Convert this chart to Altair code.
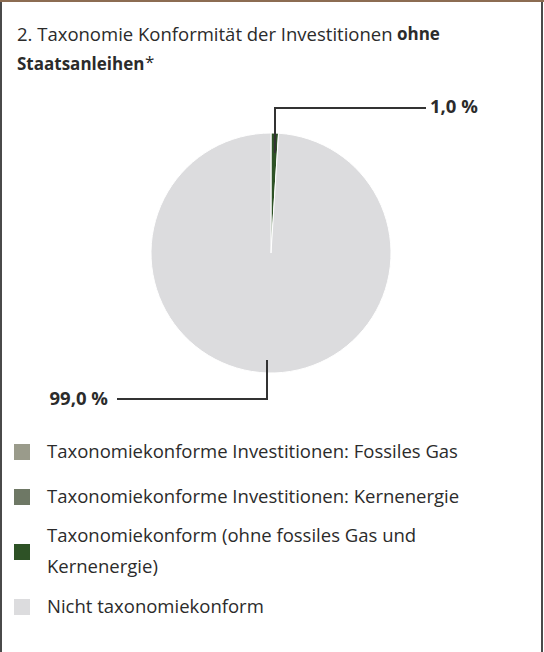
import altair as alt
import pandas as pd

# ---- data ----
categories = [
    "Taxonomiekonforme Investitionen: Fossiles Gas",
    "Taxonomiekonforme Investitionen: Kernenergie",
    "Taxonomiekonform (ohne fossiles Gas und Kernenergie)",
    "Nicht taxonomiekonform",
]
legend_labels = [
    "Taxonomiekonforme Investitionen: Fossiles Gas",
    "Taxonomiekonforme Investitionen: Kernenergie",
    "Taxonomiekonform (ohne fossiles Gas und\nKernenergie)",
    "Nicht taxonomiekonform",
]
values = [0.0, 0.0, 1.0, 99.0]
colors = ["#9a9b8b", "#6e7865", "#2e5226", "#dcdcde"]
value_labels = ["1,0 %", "99,0 %"]
title_parts = [
    ("2. Taxonomie Konformität der Investitionen", "normal"),
    ("ohne", "bold"),
    ("Staatsanleihen", "bold"),
    ("*", "normal"),
]

df = pd.DataFrame({"cat": categories, "value": values, "order": range(len(categories))})

FONT = "Open Sans"
W, H = 544, 652
CX, CY, R = 271, 253, 120
TXT = "#2b2b2b"
LINE = "#333333"
FS = 18.5

one = pd.DataFrame({"a": [0]})

# frame
frame_left = alt.Chart(one).mark_rule(color="#4a4a4a", strokeWidth=2).encode(
    x=alt.value(1), y=alt.value(2), y2=alt.value(H)
)
frame_right = alt.Chart(one).mark_rule(color="#4a4a4a", strokeWidth=2).encode(
    x=alt.value(542), y=alt.value(2), y2=alt.value(H)
)
frame_top = alt.Chart(one).mark_rule(color="#8c6c52", strokeWidth=2).encode(
    x=alt.value(0), x2=alt.value(W), y=alt.value(1)
)

# pie
pie = alt.Chart(df).mark_arc(outerRadius=R, stroke="white", strokeWidth=1).encode(
    theta=alt.Theta("value:Q", stack=True),
    order=alt.Order("order:Q"),
    color=alt.Color("cat:N", scale=alt.Scale(domain=categories, range=colors), legend=None),
    x=alt.value(CX),
    y=alt.value(CY),
)

# title
def txt(s, x, y, weight="normal", size=FS, align="left"):
    return alt.Chart(one).mark_text(align=align, baseline="middle", font=FONT, fontSize=size,
                                    fontWeight=weight, color=TXT).encode(
        x=alt.value(x), y=alt.value(y), text=alt.value(s)
    )

t1 = txt(title_parts[0][0], 17, 35)
t2 = txt(title_parts[1][0], 397, 35, "bold", 17)
t3 = txt(title_parts[2][0], 17, 65, "bold", 17)
t4 = txt(title_parts[3][0], 145, 63, "normal", 17)

# leader lines
lw = 2
l1a = alt.Chart(one).mark_rule(color=LINE, strokeWidth=lw).encode(x=alt.value(275), y=alt.value(153), y2=alt.value(107))
l1b = alt.Chart(one).mark_rule(color=LINE, strokeWidth=lw).encode(x=alt.value(274), x2=alt.value(426), y=alt.value(108))
l2a = alt.Chart(one).mark_rule(color=LINE, strokeWidth=lw).encode(x=alt.value(267), y=alt.value(360), y2=alt.value(400))
l2b = alt.Chart(one).mark_rule(color=LINE, strokeWidth=lw).encode(x=alt.value(117), x2=alt.value(268), y=alt.value(399))
lab1 = txt(value_labels[0], 430, 107, "bold", FS)
lab2 = txt(value_labels[1], 108, 399, "bold", FS, align="right")

# legend
square_rows = [452, 497, 552, 607]
text_rows = [452, 497, 536, 607]
leg_layers = []
for i, cat in enumerate(categories):
    d = pd.DataFrame({"cat": [cat], "label": [legend_labels[i]]})
    sq = alt.Chart(d).mark_square(size=256, opacity=1, filled=True).encode(
        x=alt.value(22), y=alt.value(square_rows[i]),
        color=alt.Color("cat:N", scale=alt.Scale(domain=categories, range=colors), legend=None),
    )
    tx = alt.Chart(d).mark_text(align="left", baseline="middle", font=FONT, fontSize=FS, color=TXT,
                                lineBreak="\n", lineHeight=31).encode(
        x=alt.value(47), y=alt.value(text_rows[i]), text="label:N"
    )
    leg_layers += [sq, tx]

chart = alt.layer(
    frame_left, frame_right, frame_top, pie, t1, t2, t3, t4,
    l1a, l1b, l2a, l2b, lab1, lab2, *leg_layers
).properties(
    width=W, height=H, padding=0, autosize=alt.AutoSizeParams(type="none")
).configure_view(stroke=None).configure(background="white")

chart.save("out.html", embed_options={"renderer": "svg", "actions": False})
